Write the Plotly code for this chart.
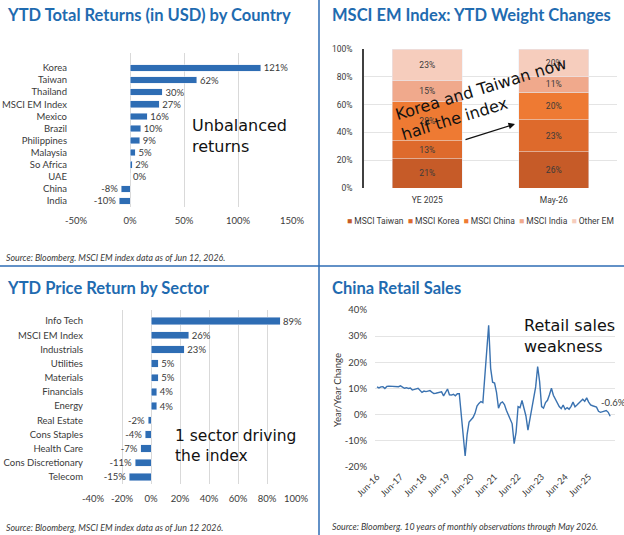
import plotly.graph_objects as go
import pandas as pd

W, H = 624, 535


def px(x):
    return x / W


def py(y):
    return 1 - y / H


BLUE = '#2E6DB4'
TITLE_C = '#1F6BB0'
TXT = '#3A3A3A'
GRID = '#D9D9D9'
HAND = 'DejaVu Sans'
FONT = 'Lato'

# ---------------- data ----------------
countries = ['Korea', 'Taiwan', 'Thailand', 'MSCI EM Index', 'Mexico', 'Brazil',
             'Philippines', 'Malaysia', 'So Africa', 'UAE', 'China', 'India']
country_ret = [121, 62, 30, 27, 16, 10, 9, 5, 2, 0, -8, -10]
country_ticks = [-50, 0, 50, 100, 150]

periods = ['YE 2025', 'May-26']
weight_series = ['MSCI Taiwan', 'MSCI Korea', 'MSCI China', 'MSCI India', 'Other EM']
weight_colors = ['#C65B28', '#DE6A2C', '#EE7A33', '#F0A98C', '#F6CDBD']
taiwan_w = [21, 26]
korea_w = [13, 23]
china_w = [28, 20]
india_w = [15, 11]
other_w = [23, 20]
weight_ticks = [0, 20, 40, 60, 80, 100]

sectors = ['Info Tech', 'MSCI EM Index', 'Industrials', 'Utilities', 'Materials',
           'Financials', 'Energy', 'Real Estate', 'Cons Staples', 'Health Care',
           'Cons Discretionary', 'Telecom']
sector_ret = [89, 26, 23, 5, 5, 4, 4, -2, -4, -7, -11, -15]
sector_ticks = [-40, -20, 0, 20, 40, 60, 80, 100]

# China retail sales YoY %, monthly Jun-2016 .. May-2026 (Jan/Feb not reported)
retail_2016 = [10.6, 10.2, 10.6, 10.7, 10.0, 10.8, 10.9]
retail_2017 = [None, None, 10.9, 10.7, 10.7, 11.0, 10.4, 10.1, 10.3, 10.0, 10.2, 9.4]
retail_2018 = [None, None, 10.1, 9.4, 8.5, 9.0, 8.8, 9.0, 9.2, 8.6, 8.1, 8.2]
retail_2019 = [None, None, 8.7, 7.2, 8.6, 9.8, 7.6, 7.5, 7.8, 7.2, 8.0, 8.0]
retail_2020 = [None, None, -15.8, -7.5, -2.8, -1.8, -1.1, 0.5, 3.3, 4.3, 5.0, 4.6]
retail_2021 = [None, None, 34.2, 17.7, 12.4, 12.1, 8.5, 2.5, 4.4, 4.9, 3.9, 1.7]
retail_2022 = [None, None, -3.5, -11.1, -6.7, 3.1, 2.7, 5.4, 2.5, -0.5, -5.9, -1.8]
retail_2023 = [None, None, 10.6, 18.4, 12.7, 3.1, 2.5, 4.6, 5.5, 7.6, 10.1, 7.4]
retail_2024 = [None, None, 3.1, 2.3, 3.7, 2.0, 2.7, 2.1, 3.2, 4.8, 3.0, 3.7]
retail_2025 = [None, None, 5.9, 5.1, 6.4, 4.8, 3.7, 3.4, 3.0, 2.9, 1.3, 0.9]
retail_2026 = [None, None, 1.6, 0.9, -0.6]
retail_yoy = (retail_2016 + retail_2017 + retail_2018 + retail_2019 + retail_2020 +
              retail_2021 + retail_2022 + retail_2023 + retail_2024 + retail_2025 +
              retail_2026)
retail_dates = pd.date_range('2016-06-01', periods=len(retail_yoy), freq='MS')
retail_tick_dates = pd.date_range('2016-06-01', '2025-06-01', freq='12MS')
retail_yticks = [-20, -10, 0, 10, 20, 30, 40]

# ---------------- figure ----------------
fig = go.Figure()

# Panel 1: country returns
fig.add_trace(go.Bar(
    x=country_ret, y=countries, orientation='h', marker_color=BLUE, width=0.55,
    text=[f'{v}%' for v in country_ret], textposition='outside', cliponaxis=False,
    constraintext='none',
    textfont=dict(family=FONT, size=9.5, color=TXT), xaxis='x', yaxis='y',
    showlegend=False))

# Panel 2: stacked weights
for name, vals, col in zip(weight_series, [taiwan_w, korea_w, china_w, india_w, other_w],
                           weight_colors):
    fig.add_trace(go.Bar(
        x=periods, y=vals, name=name, marker_color=col, width=0.55,
        text=[f'{v}%' for v in vals], textposition='inside', insidetextanchor='middle',
        constraintext='none',
        textfont=dict(family='Roboto', size=8.5, color=TXT), xaxis='x2', yaxis='y2',
        showlegend=False))

# Panel 3: sector returns
fig.add_trace(go.Bar(
    x=sector_ret, y=sectors, orientation='h', marker_color=BLUE, width=0.52,
    text=[f'{v}%' for v in sector_ret], textposition='outside', cliponaxis=False,
    constraintext='none',
    textfont=dict(family=FONT, size=9.5, color=TXT), xaxis='x3', yaxis='y3',
    showlegend=False))

# Panel 4: retail sales line
fig.add_trace(go.Scatter(
    x=retail_dates, y=retail_yoy, mode='lines', connectgaps=True,
    line=dict(color='#3A72B0', width=1.4), xaxis='x4', yaxis='y4', showlegend=False))

tickfont = dict(family=FONT, size=9.5, color=TXT)

fig.update_layout(
    width=W, height=H, margin=dict(l=0, r=0, t=0, b=0, autoexpand=False),
    paper_bgcolor='white', plot_bgcolor='white', barmode='stack',
    showlegend=False,
    # panel 1
    xaxis=dict(domain=[px(76), px(292)], range=[-50, 150], tickvals=country_ticks,
               ticktext=[f'{v}%' for v in country_ticks], showgrid=True, gridcolor=GRID,
               zeroline=False, tickfont=tickfont, anchor='y', ticklabelstandoff=6,
               automargin=False),
    yaxis=dict(domain=[py(207), py(53)], type='category', range=[11.5, -1.24],
               showgrid=False, tickfont=tickfont, anchor='x', ticks='',
               ticklabelstandoff=8, automargin=False),
    # panel 2
    xaxis2=dict(domain=[px(364), px(617)], type='category', range=[-0.5, 1.5],
                tickfont=dict(family='Roboto', size=8.5, color=TXT), anchor='y2',
                showgrid=False, ticklabelstandoff=5, automargin=False),
    yaxis2=dict(domain=[py(188), py(49)], range=[0, 100], tickvals=weight_ticks,
                ticktext=[f'{v}%' for v in weight_ticks], showgrid=True,
                gridcolor='#E4E4E4', showline=True, linecolor='#404040', linewidth=1.5,
                tickfont=dict(family='Roboto', size=8.5, color=TXT), anchor='x2',
                ticklabelstandoff=8, zeroline=False, automargin=False),
    # panel 3
    xaxis3=dict(domain=[px(93), px(296)], range=[-40, 100], tickvals=sector_ticks,
                ticktext=[f'{v}%' for v in sector_ticks], showgrid=True, gridcolor=GRID,
                zeroline=False, tickfont=tickfont, anchor='y3', ticklabelstandoff=7,
                automargin=False),
    yaxis3=dict(domain=[py(484), py(310)], type='category', range=[11.5, -0.78],
                showgrid=False, tickfont=tickfont, anchor='x3', ticks='',
                ticklabelstandoff=9, automargin=False),
    # panel 4
    xaxis4=dict(domain=[px(375), px(615)], type='date',
                range=['2016-05-01', '2026-07-15'], tickvals=list(retail_tick_dates),
                ticktext=[d.strftime('%b-%y') for d in retail_tick_dates],
                tickangle=-45, showgrid=False, tickfont=dict(family=FONT, size=9, color=TXT),
                anchor='y4', ticklabelstandoff=2, automargin=False),
    yaxis4=dict(domain=[py(467), py(310)], range=[-20, 40], tickvals=retail_yticks,
                ticktext=[f'{v}%' for v in retail_yticks], showgrid=True,
                gridcolor='#E4E4E4', zeroline=False,
                tickfont=dict(family=FONT, size=9.5, color=TXT), anchor='x4',
                ticklabelstandoff=7, automargin=False),
)

ann = []


def note(x, y, text, size=9, color=TXT, family=FONT, xanchor='left', yanchor='middle',
         **kw):
    ann.append(dict(x=px(x), y=py(y), xref='paper', yref='paper', text=text,
                    showarrow=False, xanchor=xanchor, yanchor=yanchor,
                    font=dict(family=family, size=size, color=color), **kw))


# titles
tfont = dict(size=16.5, color=TITLE_C, family=FONT, xanchor='left')
note(5, 15, '<b>YTD Total Returns (in USD) by Country</b>', **tfont)
note(330, 15, '<b>MSCI EM Index: YTD Weight Changes</b>', **tfont)
note(5, 288, '<b>YTD Price Return by Sector</b>', **tfont)
note(330, 288, '<b>China Retail Sales</b>', **tfont)

# sources
note(4, 257, '<i>Source: Bloomberg. MSCI EM index data as of Jun 12, 2026.</i>', size=8.8)
note(4, 527, '<i>Source: Bloomberg, MSCI EM index data as of Jun 12 2026.</i>', size=8.8)
note(330, 526, '<i>Source: Bloomberg. 10 years of monthly observations through May 2026.</i>',
     size=8.8)

# handwritten notes
note(190, 136, 'Unbalanced<br>returns', size=16, color='#111111', family=HAND,
     align='left')
note(173, 446, '1 sector driving<br>the index', size=15.5, color='#111111', family=HAND,
     align='left')
note(522, 336, 'Retail sales<br>weakness', size=16, color='#111111', family=HAND,
     align='left')
note(484, 99, 'Korea and Taiwan now<br>half the index', size=16, color='#111111',
     family=HAND, xanchor='center', align='left', textangle=-17)

# arrow
ann.append(dict(x=px(515), y=py(124), xref='paper', yref='paper', text='',
                showarrow=True, ax=-51, ay=16, arrowhead=2, arrowsize=1,
                arrowwidth=1.3, arrowcolor='#111111'))

# legend for panel 2
legend_txt = '  '.join(f"<span style='color:{c}'>■</span> {n}"
                       for n, c in zip(weight_series, weight_colors))
note(480, 221, legend_txt, size=8.5, family='Roboto', xanchor='center')

# y-axis title panel 4
note(337, 390, 'Year/Year Change', size=9.5, xanchor='center', textangle=-90)

# last value label panel 4
ann.append(dict(x=retail_dates[-1], y=retail_yoy[-1], xref='x4', yref='y4',
                text=f'{retail_yoy[-1]}%', showarrow=False, xanchor='left',
                yanchor='bottom', xshift=-11, yshift=6,
                font=dict(family=FONT, size=9.5, color=TXT)))

fig.update_layout(annotations=ann)

# dividers
fig.update_layout(shapes=[
    dict(type='line', xref='paper', yref='paper', x0=px(319), x1=px(319), y0=0, y1=1,
         line=dict(color=BLUE, width=1.5)),
    dict(type='line', xref='paper', yref='paper', x0=0, x1=1, y0=py(266), y1=py(266),
         line=dict(color=BLUE, width=1.5)),
])

fig.write_html('out.html')
